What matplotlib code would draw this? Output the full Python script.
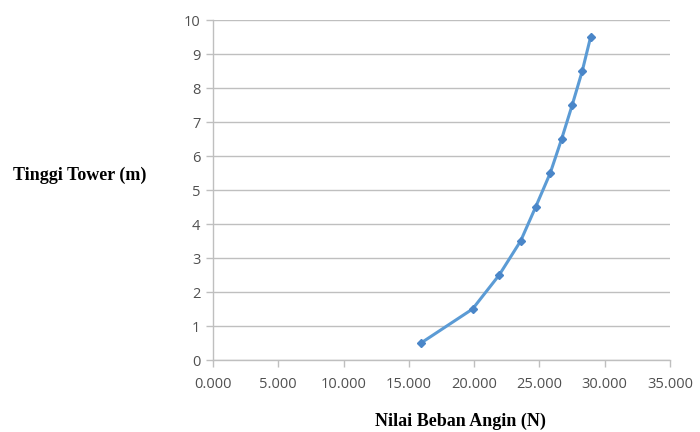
import matplotlib.pyplot as plt
from matplotlib.ticker import FuncFormatter

# === Data ===
beban_angin = [15.93, 19.88, 21.92, 23.56, 24.71, 25.83, 26.70, 27.51, 28.28, 28.92]
tinggi_tower = [0.5, 1.5, 2.5, 3.5, 4.5, 5.5, 6.5, 7.5, 8.5, 9.5]
x_ticks = [0, 5, 10, 15, 20, 25, 30, 35]
y_ticks = list(range(0, 11))

# === Plot ===
fig = plt.figure(figsize=(7, 4.32), dpi=100)
ax = fig.add_axes([213 / 700, 1 - 360 / 432, (670 - 213) / 700, (360 - 20) / 432])

ax.plot(beban_angin, tinggi_tower, color='#5B9BD5', linewidth=2.2,
        marker='D', markersize=4.5, markerfacecolor='#4A86C8', markeredgecolor='#4A86C8')

ax.set_xlim(0, 35)
ax.set_ylim(0, 10)
ax.set_xticks(x_ticks)
ax.set_yticks(y_ticks)
ax.xaxis.set_major_formatter(FuncFormatter(lambda v, p: f'{v:.3f}'))

ax.grid(axis='y', color='#BFBFBF', linewidth=1)
ax.set_axisbelow(True)
for side in ['top', 'right']:
    ax.spines[side].set_visible(False)
for side in ['left', 'bottom']:
    ax.spines[side].set_color('#BFBFBF')
    ax.spines[side].set_linewidth(1)

ax.tick_params(axis='both', colors='#BFBFBF', length=5, width=1,
               labelcolor='#505050', labelsize=10.5)
ax.tick_params(axis='x', pad=7)
ax.tick_params(axis='y', pad=4)
for lbl in ax.get_xticklabels() + ax.get_yticklabels():
    lbl.set_fontfamily('Open Sans')

fig.text(13 / 700, 1 - 175 / 432, 'Tinggi Tower (m)', fontfamily='Liberation Serif',
         fontweight='bold', fontsize=13, ha='left', va='center')
fig.text(460 / 700, 1 - 421 / 432, 'Nilai Beban Angin (N)', fontfamily='Liberation Serif',
         fontweight='bold', fontsize=13, ha='center', va='center')

fig.savefig('out.png', dpi=100)
